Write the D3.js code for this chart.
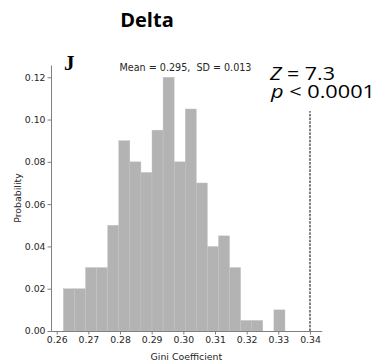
<!DOCTYPE html>
<html>
  <head>
    <meta charset="utf-8">
    <title>Delta</title>
    <script src="https://d3js.org/d3.v7.min.js"></script>
    <style>
      body { margin: 0; background: #fff; }
      .axis text { font-family: "DejaVu Sans", sans-serif; font-size: 9.3px; fill: #262626; }
      .axis path, .axis line { stroke: #7f7f7f; stroke-width: 1; }
      .axis-label { font-family: "DejaVu Sans", sans-serif; font-size: 9.4px; fill: #262626; }
    </style>
  </head>
  <body>
    <script type="text/javascript">
    // histogram of Gini coefficients
    var binEdges = [0.2621, 0.2656, 0.2691, 0.2726, 0.2761, 0.2796, 0.2831, 0.2866, 0.2901, 0.2936,
                    0.2971, 0.3006, 0.3041, 0.3076, 0.3111, 0.3146, 0.3181, 0.3216, 0.3251, 0.3286, 0.3321];
    var probs = [0.02, 0.02, 0.03, 0.03, 0.05, 0.09, 0.08, 0.075, 0.095, 0.12,
                 0.08, 0.105, 0.07, 0.04, 0.045, 0.03, 0.005, 0.005, 0, 0.01];
    var xTicks = [0.26, 0.27, 0.28, 0.29, 0.30, 0.31, 0.32, 0.33, 0.34];
    var yTicks = [0.00, 0.02, 0.04, 0.06, 0.08, 0.10, 0.12];
    var observed = 0.34;
    var observedTop = 0.104;

    var width = 380, height = 362;

    var xScale = d3.scaleLinear().domain([0.2582, 0.3437]).range([51, 321.7]);
    var yScale = d3.scaleLinear().domain([0, 0.1258]).range([331, 65]);

    var svg = d3.select("body").append("svg")
        .attr("width", width)
        .attr("height", height);

    var bins = probs.map(function(p, i) {
      return { x0: binEdges[i], x1: binEdges[i + 1], p: p };
    });

    // bars
    svg.append('g')
      .selectAll('rect')
      .data(bins.filter(function(d) { return d.p > 0; }))
      .enter()
      .append('rect')
        .attr('x', function(d) { return xScale(d.x0); })
        .attr('width', function(d) { return xScale(d.x1) - xScale(d.x0); })
        .attr('y', function(d) { return yScale(d.p); })
        .attr('height', function(d) { return yScale(0) - yScale(d.p); })
        .attr('fill', '#b3b3b3')
        .attr('stroke', '#c4c4c4')
        .attr('stroke-width', 0.4);

    // x-axis
    svg.append('g')
        .attr('class', 'axis')
        .attr('transform', 'translate(0,331)')
        .call(d3.axisBottom(xScale)
            .tickValues(xTicks)
            .tickFormat(d3.format('.2f'))
            .tickSize(3.5)
            .tickSizeOuter(0)
            .tickPadding(2));

    // y-axis
    svg.append('g')
        .attr('class', 'axis')
        .attr('transform', 'translate(51,0)')
        .call(d3.axisLeft(yScale)
            .tickValues(yTicks)
            .tickFormat(d3.format('.2f'))
            .tickSize(3.5)
            .tickSizeOuter(0)
            .tickPadding(2));

    // observed value
    svg.append('line')
        .attr('x1', xScale(observed))
        .attr('x2', xScale(observed))
        .attr('y1', yScale(0))
        .attr('y2', yScale(observedTop))
        .attr('stroke', '#000')
        .attr('stroke-width', 1)
        .attr('stroke-dasharray', '2.5,1.2');

    // axis labels
    svg.append('text')
        .attr('class', 'axis-label')
        .attr('x', 186.4)
        .attr('y', 360)
        .style('text-anchor', 'middle')
        .text('Gini Coefficient');

    svg.append('text')
        .attr('class', 'axis-label')
        .attr('transform', 'translate(21,198) rotate(-90)')
        .style('text-anchor', 'middle')
        .text('Probability');

    // titles
    svg.append('text')
        .attr('x', 147)
        .attr('y', 26.7)
        .style('text-anchor', 'middle')
        .style('font-family', '"Open Sans", sans-serif')
        .style('font-weight', 'bold')
        .style('font-size', '20px')
        .text('Delta');

    svg.append('text')
        .attr('x', 64)
        .attr('y', 70)
        .style('font-family', '"Liberation Serif", serif')
        .style('font-weight', 'bold')
        .style('font-size', '21px')
        .text('J');

    svg.append('text')
        .attr('x', 185.5)
        .attr('y', 71)
        .style('text-anchor', 'middle')
        .style('font-family', '"DejaVu Sans", sans-serif')
        .style('font-size', '9.6px')
        .style('fill', '#262626')
        .text('Mean = 0.295,\u00a0\u00a0SD = 0.013');

    // Z score and p value, stacked tight as in the figure
    var stats = svg.append('g')
        .style('font-family', '"Open Sans", sans-serif')
        .style('font-size', '19px')
        .style('fill', '#000');

    var z = stats.append('text').attr('x', 270).attr('y', 80)
        .attr('textLength', 65).attr('lengthAdjust', 'spacingAndGlyphs');
    z.append('tspan').style('font-style', 'italic').text('Z');
    z.append('tspan').text(' = 7.3');

    var p = stats.append('text').attr('x', 271).attr('y', 98)
        .attr('textLength', 104).attr('lengthAdjust', 'spacingAndGlyphs');
    p.append('tspan').style('font-style', 'italic').text('p');
    p.append('tspan').text(' < 0.0001');
    </script>
  </body>
</html>
